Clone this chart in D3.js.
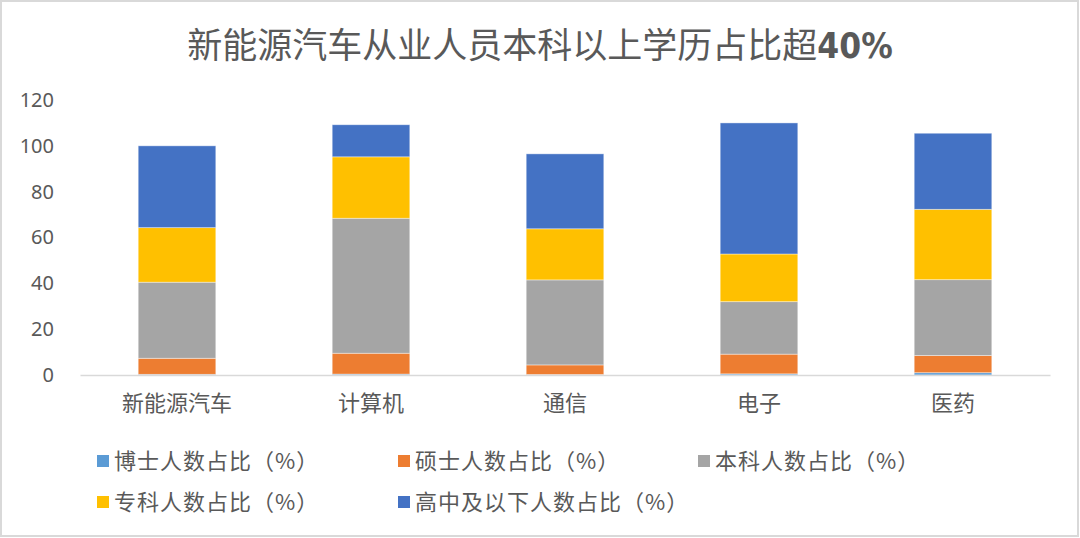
<!DOCTYPE html>
<html>
<head>
<meta charset="utf-8">
<script src="https://cdn.jsdelivr.net/npm/d3@7"></script>
<style>
  html, body { margin: 0; padding: 0; background: #fff; }
  svg { display: block; }
  text { font-family: "Noto Sans CJK SC", "Noto Sans", sans-serif; fill: #595959; }
</style>
</head>
<body>
<script>
"use strict";

// categories and series (values in %)
const categories = ["新能源汽车", "计算机", "通信", "电子", "医药"];
const boshi    = [0.3, 0.4, 0.2, 0.5, 1.0];
const shuoshi  = [7.0, 9.1, 4.2, 8.6, 7.5];
const benke    = [33.2, 58.9, 37.1, 22.9, 33.1];
const zhuanke  = [23.8, 26.8, 22.3, 20.8, 30.7];
const gaozhong = [35.7, 14.0, 32.7, 57.2, 33.2];
const seriesNames = ["博士人数占比（%）", "硕士人数占比（%）", "本科人数占比（%）", "专科人数占比（%）", "高中及以下人数占比（%）"];
const yTicks = [0, 20, 40, 60, 80, 100, 120];

const colors = ["#5B9BD5", "#ED7D31", "#A5A5A5", "#FFC000", "#4472C4"];

const width = 1080, height = 538;
const svg = d3.select("body").append("svg")
  .attr("width", width)
  .attr("height", height);

// chart frame
svg.append("rect")
  .attr("x", 1).attr("y", 1)
  .attr("width", width - 3).attr("height", height - 3)
  .attr("fill", "#fff")
  .attr("stroke", "#d9d9d9")
  .attr("stroke-width", 2);

// title
let title = svg.append("text")
  .attr("x", 540).attr("y", 58)
  .attr("text-anchor", "middle")
  .style("font-size", "35px");
title.append("tspan").text("新能源汽车从业人员本科以上学历占比超");
title.append("tspan")
  .style("font-family", "'Liberation Sans Narrow', 'DejaVu Sans Condensed', 'Liberation Sans', sans-serif")
  .style("font-weight", "bold")
  .text("40%");

const x = d3.scaleBand()
  .domain(categories)
  .range([80, 1050])
  .paddingInner(0.6)
  .paddingOuter(0.3);

const y = d3.scaleLinear()
  .domain([0, 120])
  .range([375, 100]);

// build stacked table
const keys = ["boshi", "shuoshi", "benke", "zhuanke", "gaozhong"];
const table = categories.map((c, i) => ({
  cat: c,
  boshi: boshi[i],
  shuoshi: shuoshi[i],
  benke: benke[i],
  zhuanke: zhuanke[i],
  gaozhong: gaozhong[i]
}));
const stacked = d3.stack().keys(keys)(table);

// y axis labels
const yAxis = svg.append("g")
  .attr("transform", "translate(54,0)")
  .call(d3.axisLeft(y).tickValues(yTicks).tickSize(0).tickPadding(0));
yAxis.select(".domain").remove();
yAxis.selectAll("text")
  .style("font-size", "20px")
  .style("font-family", "'Noto Sans', sans-serif")
  .attr("fill", "#595959");

// bars
svg.append("g")
  .selectAll("g")
  .data(stacked)
  .join("g")
  .attr("fill", (d, i) => colors[i])
  .selectAll("rect")
  .data(d => d)
  .join("rect")
  .attr("x", d => x(d.data.cat))
  .attr("y", d => y(d[1]))
  .attr("width", x.bandwidth())
  .attr("height", d => y(d[0]) - y(d[1]))
  .attr("stroke", "#ffffff")
  .attr("stroke-opacity", 0.5)
  .attr("stroke-width", 0.8);

// x axis
const xAxis = svg.append("g")
  .attr("transform", "translate(0,375)")
  .call(d3.axisBottom(x).tickSize(0).tickPadding(20).tickSizeOuter(0));
xAxis.select(".domain")
  .attr("stroke", "#d9d9d9")
  .attr("stroke-width", 1.5);
xAxis.selectAll("text")
  .style("font-size", "22px")
  .style("font-family", "'Noto Sans CJK SC', sans-serif")
  .attr("fill", "#595959");

// legend
const legendPos = [[97, 461], [398, 461], [698, 461], [97, 502], [398, 502]];
const legend = svg.append("g")
  .selectAll("g")
  .data(seriesNames)
  .join("g")
  .attr("transform", (d, i) => "translate(" + legendPos[i][0] + "," + legendPos[i][1] + ")");

legend.append("rect")
  .attr("x", 0).attr("y", -6)
  .attr("width", 12).attr("height", 12)
  .attr("fill", (d, i) => colors[i]);

legend.append("text")
  .attr("x", 17).attr("y", 0)
  .attr("dy", "0.35em")
  .style("font-size", "22px")
  .style("letter-spacing", "1px")
  .text(d => d);
</script>
</body>
</html>
